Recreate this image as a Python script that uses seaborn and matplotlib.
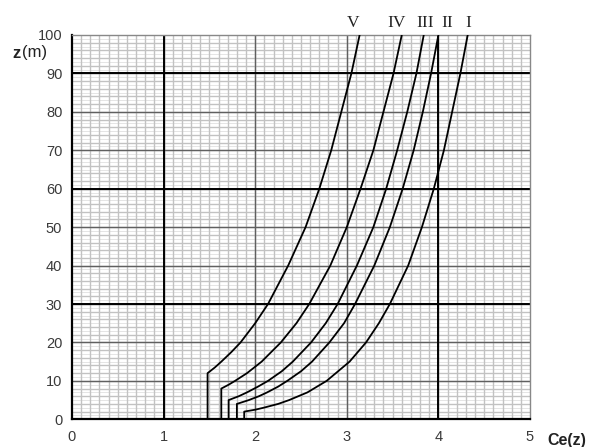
import matplotlib
matplotlib.use("Agg")
import matplotlib.pyplot as plt
import numpy as np
import pandas as pd
import seaborn as sns

# --- values ---
z_I = [0, 2, 2.5, 3, 4, 5, 7, 10, 15, 20, 25, 30, 40, 50, 60, 70, 80, 90, 100]
ce_I = [1.88, 1.88, 2.00, 2.09, 2.25, 2.37, 2.57, 2.78, 3.03, 3.21, 3.35, 3.47, 3.67, 3.82, 3.95, 4.06, 4.15, 4.24, 4.32]

z_II = [0, 4, 5, 6, 7, 8.5, 10, 12.5, 15, 20, 25, 30, 40, 50, 60, 70, 80, 90, 100]
ce_II = [1.80, 1.80, 1.93, 2.04, 2.13, 2.25, 2.35, 2.50, 2.62, 2.81, 2.97, 3.09, 3.30, 3.47, 3.61, 3.73, 3.83, 3.92, 4.00]

z_III = [0, 5, 6, 7, 8.5, 10, 12.5, 15, 20, 25, 30, 40, 50, 60, 70, 80, 90, 100]
ce_III = [1.71, 1.71, 1.82, 1.91, 2.03, 2.14, 2.29, 2.41, 2.61, 2.77, 2.90, 3.11, 3.29, 3.43, 3.55, 3.66, 3.76, 3.84]

z_IV = [0, 8, 9, 10, 12, 15, 20, 25, 30, 40, 50, 60, 70, 80, 90, 100]
ce_IV = [1.63, 1.63, 1.71, 1.78, 1.91, 2.07, 2.28, 2.45, 2.59, 2.82, 3.00, 3.15, 3.29, 3.40, 3.51, 3.60]

z_V = [0, 12, 13.5, 15, 17.5, 20, 25, 30, 40, 50, 60, 70, 80, 90, 100]
ce_V = [1.48, 1.48, 1.56, 1.63, 1.74, 1.84, 2.00, 2.14, 2.36, 2.55, 2.70, 2.83, 2.94, 3.05, 3.14]

categories = ["I", "II", "III", "IV", "V"]
label_x = [4.33, 4.10, 3.85, 3.54, 3.07]

x_ticks = [0, 1, 2, 3, 4, 5]
y_ticks = [0, 10, 20, 30, 40, 50, 60, 70, 80, 90, 100]

frames = []
for cat, zz, cc in zip(categories, [z_I, z_II, z_III, z_IV, z_V],
                       [ce_I, ce_II, ce_III, ce_IV, ce_V]):
    frames.append(pd.DataFrame({"cat": cat, "z": zz, "ce": cc}))
df = pd.concat(frames, ignore_index=True)

sns.set_theme(style="white")
plt.rcParams["font.family"] = ["Liberation Sans", "DejaVu Sans"]

fig = plt.figure(figsize=(5.94, 4.47), dpi=100)
ax = fig.add_axes([72 / 594, 27.7 / 447, 458 / 594, 384.3 / 447])

# --- papier millimétré ---
for yv in np.arange(1, 100, 1):
    ax.axhline(yv, color="#e0e0e0", lw=0.6, zorder=0)
for yv in np.arange(2, 100, 2):
    ax.axhline(yv, color="#c2c2c2", lw=1.0, zorder=0)
for xv in np.arange(0.1, 5, 0.1):
    ax.axvline(xv, color="#c2c2c2", lw=1.0, zorder=0)
for yv in y_ticks[1:-1]:
    ax.axhline(yv, color="#606060", lw=1.0, zorder=1)
for xv in x_ticks[1:-1]:
    ax.axvline(xv, color="#606060", lw=1.0, zorder=1)
for yv in [30, 60, 90]:
    ax.axhline(yv, color="black", lw=1.4, zorder=1)
for xv in [1, 4]:
    ax.axvline(xv, color="black", lw=1.4, zorder=1)

sns.lineplot(data=df, x="ce", y="z", hue="cat", orient="y", estimator=None,
             palette=["black"] * 5, lw=1.3, legend=False, ax=ax, zorder=3)

ax.set_xlim(0, 5)
ax.set_ylim(0, 100)
ax.set_xticks(x_ticks)
ax.set_yticks(y_ticks)
ax.set_xlabel("")
ax.set_ylabel("")
ax.tick_params(axis="both", length=0, labelsize=10.5, labelcolor="#3a3a3a")
ax.tick_params(axis="x", pad=8)
ax.tick_params(axis="y", pad=7)

for side in ["left", "bottom"]:
    ax.spines[side].set_color("black")
    ax.spines[side].set_linewidth(1.6)
for side in ["top", "right"]:
    ax.spines[side].set_color("#888888")
    ax.spines[side].set_linewidth(1.0)

for cat, xl in zip(categories, label_x):
    ax.text(xl, 101.0, cat, ha="center", va="bottom", fontsize=12.5,
            family="Liberation Serif", color="#222222", clip_on=False)

fig.text(12 / 594, 1 - 53 / 447, "z", fontsize=12, fontweight="bold",
         color="#222222", ha="left", va="center")
fig.text(22 / 594, 1 - 53 / 447, "(m)", fontsize=12, color="#222222",
         ha="left", va="center")
fig.text(567 / 594, 1 - 440 / 447, "Ce(z)", fontsize=11.5, fontweight="bold",
         color="#222222", ha="center", va="center")

fig.savefig("out.png", dpi=100)
